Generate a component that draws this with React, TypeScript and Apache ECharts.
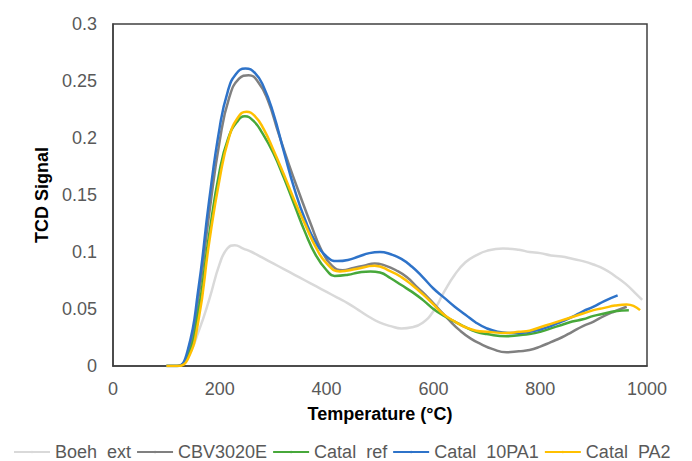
import React, { useEffect, useRef } from "react";
import * as echarts from "echarts";

const seriesNames = ["Boeh  ext", "CBV3020E", "Catal  ref", "Catal  10PA1", "Catal  PA2"];
const seriesColors = ["#D9D9D9", "#808080", "#47A83A", "#2E73C9", "#FFC000"];

const boehTemp = [100, 120, 140, 160, 180, 200, 214, 228, 244, 260, 280, 300, 320, 340, 360, 380, 400, 420, 440, 460, 480, 500, 520, 540, 560, 580, 600, 620, 640, 660, 680, 700, 730, 760, 780, 800, 820, 840, 860, 880, 900, 920, 940, 960, 980, 991];
const boehSignal = [0, 0, 0.008, 0.03, 0.058, 0.09, 0.103, 0.106, 0.103, 0.1, 0.095, 0.09, 0.085, 0.08, 0.075, 0.07, 0.065, 0.06, 0.055, 0.049, 0.043, 0.038, 0.035, 0.033, 0.034, 0.038, 0.048, 0.065, 0.08, 0.091, 0.097, 0.101, 0.103, 0.102, 0.1, 0.099, 0.097, 0.096, 0.094, 0.092, 0.089, 0.085, 0.079, 0.072, 0.063, 0.058];

const cbvTemp = [100, 120, 140, 160, 180, 200, 218, 236, 254, 272, 290, 310, 330, 350, 370, 390, 410, 430, 450, 470, 490, 510, 530, 550, 570, 590, 610, 630, 650, 670, 690, 710, 737, 760, 780, 800, 820, 840, 860, 880, 900, 920, 940, 962];
const cbvSignal = [0, 0, 0.01, 0.06, 0.133, 0.198, 0.236, 0.252, 0.255, 0.249, 0.233, 0.204, 0.176, 0.15, 0.125, 0.102, 0.088, 0.084, 0.086, 0.088, 0.09, 0.088, 0.084, 0.078, 0.069, 0.06, 0.05, 0.04, 0.031, 0.024, 0.019, 0.015, 0.012, 0.013, 0.014, 0.017, 0.021, 0.025, 0.03, 0.035, 0.039, 0.044, 0.048, 0.052];

const refTemp = [100, 120, 140, 160, 180, 200, 216, 232, 247, 263, 280, 300, 320, 340, 360, 380, 400, 415, 440, 460, 482, 500, 520, 540, 560, 580, 600, 620, 640, 660, 680, 700, 737, 760, 780, 800, 820, 840, 860, 880, 900, 920, 940, 966];
const refSignal = [0, 0, 0.008, 0.048, 0.115, 0.172, 0.2, 0.214, 0.219, 0.215, 0.204, 0.187, 0.165, 0.141, 0.117, 0.097, 0.084, 0.079, 0.08, 0.082, 0.083, 0.082, 0.077, 0.071, 0.065, 0.058, 0.05, 0.044, 0.039, 0.034, 0.03, 0.028, 0.026, 0.027, 0.028, 0.03, 0.033, 0.036, 0.039, 0.041, 0.044, 0.046, 0.048, 0.049];

const pa1Temp = [100, 120, 140, 160, 180, 200, 215, 230, 248, 266, 282, 300, 320, 340, 360, 380, 400, 420, 440, 460, 480, 500, 520, 540, 560, 580, 600, 620, 640, 660, 680, 700, 720, 740, 760, 780, 800, 820, 840, 860, 880, 900, 920, 945];
const pa1Signal = [0, 0, 0.014, 0.068, 0.145, 0.21, 0.241, 0.256, 0.261, 0.257, 0.245, 0.222, 0.188, 0.155, 0.128, 0.108, 0.096, 0.092, 0.093, 0.096, 0.099, 0.1, 0.098, 0.094, 0.087, 0.078, 0.068, 0.06, 0.052, 0.045, 0.038, 0.033, 0.03, 0.029, 0.029, 0.03, 0.032, 0.035, 0.039, 0.043, 0.048, 0.052, 0.057, 0.062];

const pa2Temp = [100, 120, 140, 160, 180, 200, 217, 234, 250, 266, 282, 300, 320, 340, 360, 380, 400, 425, 455, 490, 520, 540, 560, 580, 600, 620, 640, 660, 680, 700, 737, 760, 780, 800, 820, 840, 860, 880, 900, 920, 940, 962, 987];
const pa2Signal = [0, 0, 0.006, 0.04, 0.108, 0.165, 0.2, 0.218, 0.223, 0.219, 0.208, 0.19, 0.168, 0.145, 0.124, 0.104, 0.09, 0.083, 0.085, 0.088, 0.083, 0.078, 0.071, 0.063, 0.054, 0.045, 0.039, 0.034, 0.031, 0.03, 0.029, 0.03, 0.031, 0.034, 0.037, 0.04, 0.043, 0.046, 0.049, 0.051, 0.053, 0.054, 0.049];

const allTemps = [boehTemp, cbvTemp, refTemp, pa1Temp, pa2Temp];
const allSignals = [boehSignal, cbvSignal, refSignal, pa1Signal, pa2Signal];

const xTicks = [0, 200, 400, 600, 800, 1000];
const yTicks = [0, 0.05, 0.1, 0.15, 0.2, 0.25, 0.3];

const FONT = "Liberation Sans, Arial, sans-serif";

export default function App() {
  const ref = useRef<HTMLDivElement>(null);
  useEffect(() => {
    if (!ref.current) return;
    const chart = echarts.init(ref.current, null, { renderer: "svg" });
    const series = seriesNames.map((name, i) => ({
      name,
      type: "line",
      smooth: 0.5,
      symbol: "none",
      showSymbol: false,
      data: allTemps[i].map((t, j) => [t, allSignals[i][j]]),
      lineStyle: { color: seriesColors[i], width: 2.5 },
      itemStyle: { color: seriesColors[i] },
      z: 2 + i,
    }));
    chart.setOption({
      animation: false,
      backgroundColor: "#ffffff",
      textStyle: { fontFamily: FONT },
      grid: {
        left: 113,
        right: 45,
        top: 24,
        bottom: 95,
        show: true,
        borderColor: "#404040",
        borderWidth: 1.5,
        containLabel: false,
      },
      legend: {
        left: 8,
        top: 438,
        itemWidth: 36,
        itemHeight: 3,
        itemGap: 5,
        textStyle: { fontSize: 18, color: "#595959", fontFamily: FONT },
        data: seriesNames,
      },
      xAxis: {
        type: "value",
        min: xTicks[0],
        max: xTicks[xTicks.length - 1],
        interval: 200,
        name: "Temperature (°C)",
        nameLocation: "middle",
        nameGap: 39,
        nameTextStyle: { fontSize: 18, fontWeight: "bold", color: "#000000", fontFamily: FONT },
        axisLine: { show: true, lineStyle: { color: "#404040", width: 1.5 } },
        axisTick: { show: false },
        splitLine: { show: false },
        axisLabel: {
          fontSize: 18,
          color: "#595959",
          margin: 14,
          fontFamily: FONT,
          formatter: (v: number) => String(v),
        },
      },
      yAxis: {
        type: "value",
        min: yTicks[0],
        max: yTicks[yTicks.length - 1],
        interval: 0.05,
        name: "TCD Signal",
        nameLocation: "middle",
        nameGap: 56,
        nameTextStyle: { fontSize: 18, fontWeight: "bold", color: "#000000", fontFamily: FONT },
        axisLine: { show: true, lineStyle: { color: "#404040", width: 1.5 } },
        axisTick: { show: false },
        splitLine: { show: false },
        axisLabel: {
          fontSize: 18,
          color: "#595959",
          margin: 16,
          fontFamily: FONT,
          formatter: (v: number) => String(Math.round(v * 100) / 100),
        },
      },
      series,
    });
    return () => chart.dispose();
  }, []);
  return (
    <div
      ref={ref}
      style={{ position: "fixed", left: 0, top: 0, width: 692, height: 461, background: "#fff" }}
    />
  );
}
